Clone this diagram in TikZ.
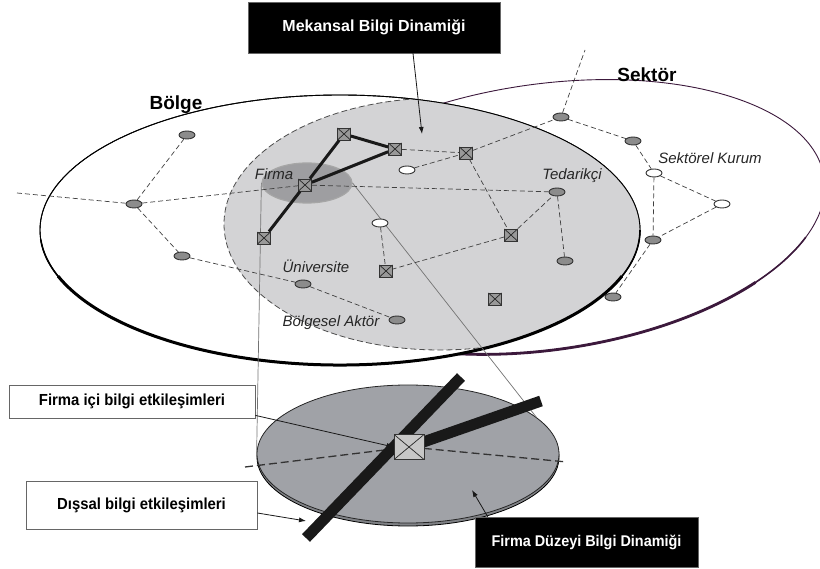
\documentclass[tikz,border=0pt]{standalone}
\usepackage{fontspec}
\setmainfont{Liberation Sans}
\newfontfamily\narrowsans{Liberation Sans}[FakeStretch=0.93]
\usetikzlibrary{shapes.geometric,arrows.meta}

\definecolor{mekan}{RGB}{211,211,213}
\definecolor{firmgray}{RGB}{158,158,161}
\definecolor{discgray}{RGB}{160,162,167}
\definecolor{sektorline}{RGB}{60,25,60}

\tikzset{
	actor/.style={ellipse,draw=black!80,fill=black!45,line width=0.9pt,minimum width=16pt,minimum height=8pt,inner sep=0pt},
	kurum/.style={actor,fill=white},
	firm/.style={rectangle,draw=black!80,fill=black!40,line width=0.8pt,minimum width=13pt,minimum height=12pt,inner sep=0pt,
		path picture={\draw[black!85,line width=0.7pt] (path picture bounding box.north west) -- (path picture bounding box.south east)
			(path picture bounding box.north east) -- (path picture bounding box.south west);}},
	hub/.style={firm,fill=black!22,minimum width=30pt,minimum height=25pt},
	link/.style={black!75,line width=0.7pt,dash pattern=on 5pt off 3pt},
	tie/.style={black!90,line width=3pt},
	proj/.style={black!55,line width=0.7pt},
	bar/.style={black!90,line width=11pt},
	pointer/.style={black!90,line width=0.8pt,-{Latex[length=7pt,width=5pt]}},
	tag/.style={inner sep=0pt,text=black!85,font=\fontsize{15}{17}\selectfont\itshape},
	area/.style={inner sep=0pt,font=\fontsize{19}{21}\selectfont\bfseries},
	darkbox/.style={fill=black,draw=black!60,text=white,inner sep=0pt},
	lightbox/.style={fill=white,draw=black!60,line width=0.8pt,inner sep=0pt,font=\narrowsans\bfseries\fontsize{16}{18}\selectfont},
}

\begin{document}
\begin{tikzpicture}[x=1pt,y=-1pt]
	\useasboundingbox (0,0) rectangle (820,569);
	% Sektör, tilted with its right end up
	\begin{scope}[shift={(545,217)},x={(0.990pt,0.139pt)},y={(0.139pt,-0.990pt)}]
		\draw[draw=sektorline,fill=white,line width=0.9pt] (0,0) ellipse [x radius=282,y radius=133];
		\draw[sektorline,line width=1.6pt] (25:282 and 133) arc[start angle=25,end angle=135,x radius=282,y radius=133];
		\draw[sektorline,line width=2.8pt] (45:282 and 133) arc[start angle=45,end angle=120,x radius=282,y radius=133];
	\end{scope}
	% Bölge
	\draw[fill=white,line width=0.9pt] (340,230) ellipse [x radius=300,y radius=135];
	\begin{scope}
		\clip (340,230) ellipse [x radius=300,y radius=135];
		\draw[draw=black!70,fill=mekan,line width=0.8pt,dash pattern=on 6pt off 3pt] (440,224) ellipse [x radius=216,y radius=126];
	\end{scope}
	\draw[line width=0.9pt] (340,230) ellipse [x radius=300,y radius=135];
	\begin{scope}[shift={(340,230)}]
		\draw[line width=1.6pt] (0:300 and 135) arc[start angle=0,end angle=176,x radius=300,y radius=135];
		\draw[line width=3pt] (20:300 and 135) arc[start angle=20,end angle=160,x radius=300,y radius=135];
	\end{scope}
	\node[ellipse,fill=firmgray,draw=black!35,line width=1.2pt,minimum width=90pt,minimum height=40pt,inner sep=0pt] (fe) at (307,183) {};

	% firma disc
	\draw[fill=discgray!80!black,line width=0.8pt] (408,457) ellipse [x radius=151,y radius=69];
	\node[ellipse,draw=black!85,fill=discgray,line width=0.8pt,minimum width=302pt,minimum height=138pt,inner sep=0pt] (disc) at (408,454) {};
	\draw[proj] (fe.west) -- (disc.west);
	\draw[proj] (fe.east) -- (disc.16);

	% actors
	\node[actor] (b1) at (187,135) {};
	\node[actor] (b2) at (134,204) {};
	\node[actor] (b3) at (182,256) {};
	\node[actor] (uni) at (303,284) {};
	\node[actor] (baktor) at (397,320) {};
	\node[actor] (tedarik) at (557,192) {};
	\node[actor] (ted2) at (565,261) {};
	\node[actor] (s1) at (561,117) {};
	\node[actor] (s2) at (633,141) {};
	\node[actor] (s3) at (653,240) {};
	\node[actor] (s4) at (613,297) {};
	\node[kurum] (w1) at (407,170) {};
	\node[kurum] (w2) at (380,223) {};
	\node[kurum] (skurum) at (654,173) {};
	\node[kurum] (w4) at (722,204) {};
	\node[firm] (f1) at (344,134) {};
	\node[firm] (f2) at (395,149) {};
	\node[firm] (f3) at (466,153) {};
	\node[firm] (firma) at (305,185) {};
	\node[firm] (f5) at (264,238) {};
	\node[firm] (f6) at (511,235) {};
	\node[firm] (f7) at (386,271) {};
	\node[firm] (f8) at (495,299) {};
	\coordinate (wend) at (17,193);
	\coordinate (nend) at (585,50);

	\draw[link] (wend) -- (b2);
	\draw[link] (b2) -- (b1);
	\draw[link] (b2) -- (b3);
	\draw[link] (b3) -- (uni);
	\draw[link] (uni) -- (baktor);
	\draw[link] (b2) -- (firma);
	\draw[link] (firma) -- (tedarik);
	\draw[link] (f2) -- (f3);
	\draw[link] (w1) -- (f3);
	\draw[link] (f3) -- (s1);
	\draw[link] (s1) -- (nend);
	\draw[link] (s1) -- (s2);
	\draw[link] (s2) -- (skurum);
	\draw[link] (skurum) -- (w4);
	\draw[link] (skurum) -- (s3);
	\draw[link] (w4) -- (s3);
	\draw[link] (s3) -- (s4);
	\draw[link] (f3) -- (f6);
	\draw[link] (f6) -- (tedarik);
	\draw[link] (tedarik) -- (ted2);
	\draw[link] (f6) -- (f7);
	\draw[link] (w2) -- (f7);
	\draw[tie] (firma) -- (f1);
	\draw[tie] (f1) -- (f2);
	\draw[tie] (f2) -- (firma);
	\draw[tie] (firma) -- (f5);

	% labels
	\node[area] (bolge) at (176,105) {Bölge};
	\node[area] (sektor) at (647,75) {Sektör};
	\node[tag] (lfirma) at (274,174) {Firma};
	\node[tag] (ltedarik) at (572,176) {Tedarikçi};
	\node[tag] (lkurum) at (710,158) {Sektörel Kurum};
	\node[tag] (luni) at (316,266) {Üniversite};
	\node[tag] (laktor) at (331,323) {Bölgesel Aktör};

	% bars on the disc
	\coordinate (hubc) at (409,447);
	\coordinate (dl) at (245,467);
	\coordinate (dr) at (567,462);
	\coordinate (baru) at (461,377);
	\coordinate (bard) at (306,538);
	\coordinate (barr) at (541,401);
	\draw[black!80,line width=1.3pt,dash pattern=on 8pt off 4pt] (dl) -- (hubc) -- (dr);
	\draw[bar] (baru) -- (bard);
	\draw[bar] (hubc) -- (barr);
	\node[hub] (hub) at (hubc) {};

	% boxes
	\node[darkbox,minimum width=252pt,minimum height=51pt,font=\fontsize{16}{18}\selectfont\bfseries] (mkbox) at (374,27.5) {Mekansal Bilgi Dinamiği};
	\node[darkbox,minimum width=223pt,minimum height=50pt,font=\narrowsans\bfseries\fontsize{15.5}{18}\selectfont] (fdbox) at (586.5,542) {Firma Düzeyi Bilgi Dinamiği};
	\node[lightbox,minimum width=246pt,minimum height=33pt] (icbox) at (132,401.5) {Firma içi bilgi etkileşimleri};
	\node[lightbox,minimum width=231pt,minimum height=48pt] (dsbox) at (141.5,505) {Dışsal bilgi etkileşimleri};
	\coordinate (mktip) at (422,134);
	\coordinate (fdtip) at (472,490);
	\coordinate (dstip) at (306,521);
	\draw[pointer] ([xshift=39pt]mkbox.south) -- (mktip);
	\draw[pointer] ([xshift=13pt]fdbox.north west) -- (fdtip);
	\draw[pointer] ([yshift=3pt]icbox.south east) -- (hub.west);
	\draw[pointer] ([yshift=-8pt]dsbox.east) -- (dstip);
\end{tikzpicture}
\end{document}
